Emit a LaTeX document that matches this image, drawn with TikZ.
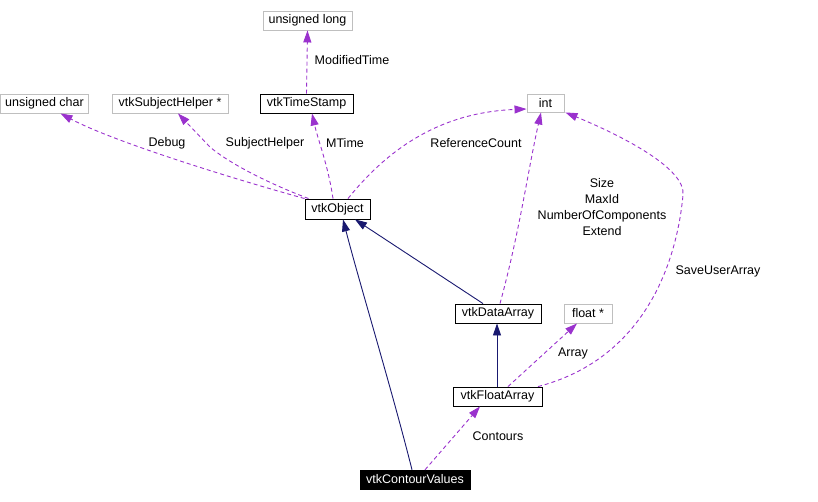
\documentclass[tikz,border=0pt]{standalone}
\usepackage{fontspec}
\setmainfont{Liberation Sans}
\usetikzlibrary{arrows.meta,calc}
\definecolor{dpurple}{HTML}{9A32CD}
\definecolor{dnavy}{HTML}{191970}
\definecolor{dgray}{HTML}{BFBFBF}
\begin{document}
\begin{tikzpicture}[x=1pt,y=-1pt,
  every node/.style={font=\fontsize{12.5}{14}\selectfont, inner sep=0pt},
  cls/.style={draw=black, line width=0.9pt, fill=white, minimum height=19pt},
  ext/.style={draw=dgray, line width=0.9pt, fill=white, minimum height=19pt},
  main/.style={draw=black, fill=black, text=white, minimum height=19pt},
  inh/.style={draw=dnavy, line width=0.9pt, -{Triangle[length=12pt,width=8pt]}},
  use/.style={draw=dpurple, line width=0.9pt, dash pattern=on 4pt off 3pt, -{Triangle[length=12pt,width=8pt,fill=dpurple]}},
  lbl/.style={text=black, align=center}]
\useasboundingbox (0,0) rectangle (818,501);
% nodes
\node[ext, minimum width=89pt] (ulong) at (307.5,20.5) {unsigned long};
\node[ext, minimum width=88pt] (uchar) at (44.5,103.5) {unsigned char};
\node[ext, minimum width=116pt] (subj) at (170,103.5) {vtkSubjectHelper *};
\node[cls, minimum width=93pt] (tstamp) at (306.5,103.5) {vtkTimeStamp};
\node[cls, minimum width=65pt, minimum height=20pt] (obj) at (337.5,209) {vtkObject};
\node[ext, minimum width=37pt, minimum height=18pt] (int) at (545.5,103) {int};
\node[cls, minimum width=86pt] (darr) at (498,313.5) {vtkDataArray};
\node[ext, minimum width=48pt] (flt) at (588,313.5) {float *};
\node[cls, minimum width=89pt] (farr) at (497.5,396.5) {vtkFloatArray};
\node[main, minimum width=110pt] (cv) at (415,479.5) {vtkContourValues};
% inheritance
\draw[inh] ($(cv.north)+(-3,0)$) .. controls (392,390) and (360,285) .. ($(obj.south)+(5.5,0)$);
\draw[inh] ($(darr.north)+(-15,0)$) -- ($(obj.south)+(17.5,0)$);
\draw[inh] ($(farr.north)+(-0.5,0)$) -- ($(darr.south)+(-1,0)$);
% usage
\draw[use] ($(cv.north)+(10,0)$) -- ($(farr.south)+(-17.5,0)$);
\draw[use] ($(farr.north)+(10.5,0)$) -- ($(flt.south)+(-11,0)$);
\draw[use] ($(farr.north)+(40.5,0)$) .. controls (640,360) and (676,270) .. (683,195)
  .. controls (686,168) and (620,135) .. ($(int.south east)+(1,0)$);
\draw[use] ($(darr.north)+(2,0)$) .. controls (520,230) and (528,170) .. ($(int.south)+(-4.5,0)$);
\draw[use] ($(obj.north)+(10.5,0)$) .. controls (395,140) and (450,112) .. ($(int.west)+(0,6)$);
\draw[use] ($(obj.north)+(-4.5,0)$) .. controls (328,165) and (318,140) .. ($(tstamp.south)+(5.5,0)$);
\draw[use] ($(obj.north)+(-29,0)$) .. controls (260,180) and (225,160) .. (210,147) -- ($(subj.south)+(8,0)$);
\draw[use] (obj.north west) .. controls (220,175) and (110,140) .. ($(uchar.south)+(16,0)$);
\draw[use] (tstamp.north) -- (ulong.south);
% labels
\node[lbl] at (167,143) {Debug};
\node[lbl] at (265,143) {SubjectHelper};
\node[lbl] at (345,143) {MTime};
\node[lbl] at (352,60) {ModifiedTime};
\node[lbl] at (476,143) {ReferenceCount};
\node[lbl, font=\fontsize{12.5}{16}\selectfont] at (602,207) {Size\\MaxId\\NumberOfComponents\\Extend};
\node[lbl] at (718,271) {SaveUserArray};
\node[lbl] at (573,353) {Array};
\node[lbl] at (498,436) {Contours};
\end{tikzpicture}
\end{document}
